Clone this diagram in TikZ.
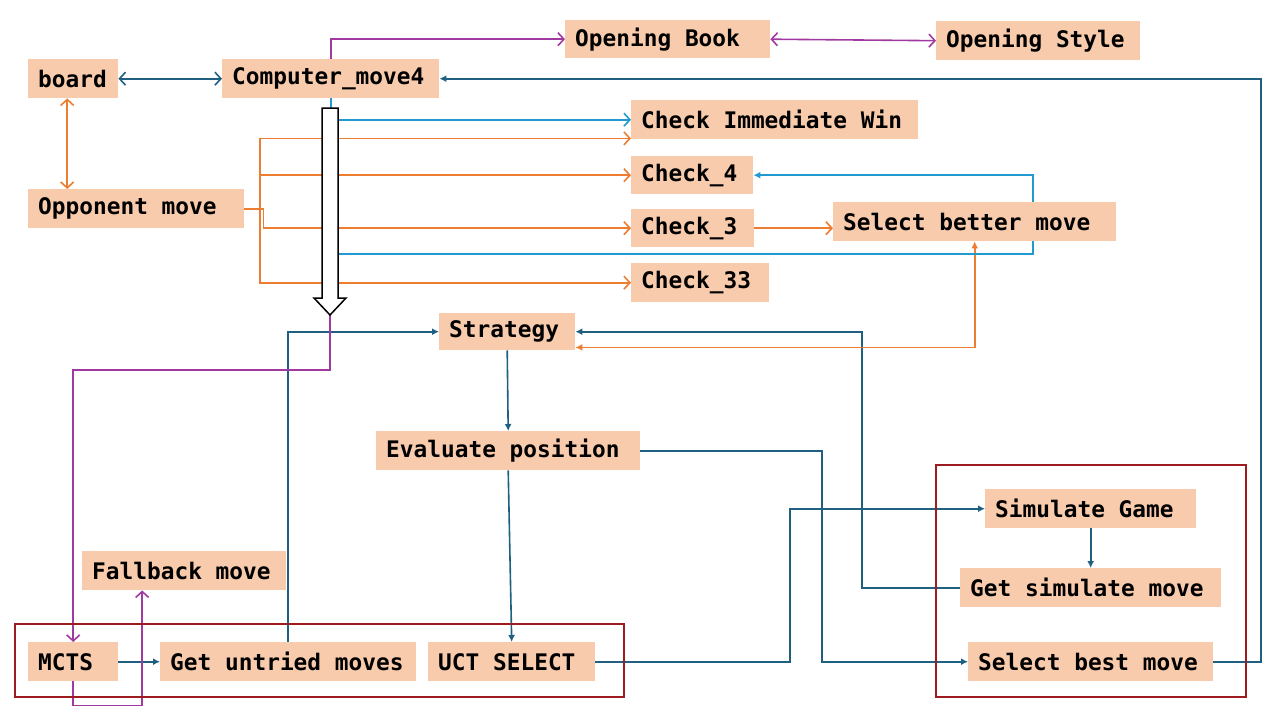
\documentclass[tikz,border=0pt]{standalone}
\usepackage{fontspec}
\newfontfamily\bxf{DejaVu Sans Mono}
\usetikzlibrary{arrows.meta}
\definecolor{peach}{HTML}{F8CBAD}
\definecolor{dblue}{HTML}{1F5F80}
\definecolor{lblue}{HTML}{2299D0}
\definecolor{orng}{HTML}{ED7D31}
\definecolor{purp}{HTML}{A03AA0}
\definecolor{dred}{HTML}{9E1B20}
\pgfdeclarelayer{bg}
\pgfdeclarelayer{mid}
\pgfsetlayers{bg,mid,main}
\newcommand\ws{\hspace*{0.602em}}
\tikzset{
  box/.style={fill=peach, anchor=north west, inner xsep=10pt, inner ysep=0pt,
    minimum height=39pt, align=left, font=\bxf\bfseries\fontsize{22.8}{27}\selectfont},
  conn/.style={line width=1.6pt},
  oa/.style={conn,-{Straight Barb[length=6pt,width=13pt]}},
  boa/.style={conn,{Straight Barb[length=6pt,width=13pt]}-{Straight Barb[length=6pt,width=13pt]}},
  sa/.style={conn,-{Latex[length=7pt,width=7pt]}},
  bsa/.style={conn,{Latex[length=7pt,width=7pt]}-{Latex[length=7pt,width=7pt]}},
  frame/.style={draw=dred, line width=1.8pt},
}
\begin{document}
\begin{tikzpicture}[x=1pt,y=-1pt]
\useasboundingbox (0,0) rectangle (1280,720);
% boxes
\node[box,text width=70pt] (board) at (28,59) {board};
\node[box,text width=197pt] (comp) at (222,59) {Computer\_move4};
\node[box,text width=185pt,minimum height=38pt] (book) at (565,20) {Opening\ws Book};
\node[box,text width=184pt] (style) at (936,21) {Opening\ws Style};
\node[box,text width=267pt] (ciw) at (631,100) {Check\ws Immediate\ws Win};
\node[box,text width=102pt,minimum height=38pt] (c4) at (631,156) {Check\_4};
\node[box,text width=103pt,minimum height=38pt] (c3) at (631,209) {Check\_3};
\node[box,text width=118pt] (c33) at (631,263) {Check\_33};
\node[box,text width=263pt] (sbm) at (833,202) {Select\ws better\ws move};
\node[box,text width=196pt] (opp) at (28,189) {Opponent\ws move};
\node[box,text width=116pt,minimum height=37pt] (strat) at (439,313) {Strategy};
\node[box,text width=244pt] (eval) at (376,431) {Evaluate\ws position};
\node[box,text width=184pt] (fall) at (82,551) {Fallback\ws move};
\node[box,text width=70pt] (mcts) at (28,642) {MCTS};
\node[box,text width=236pt] (gum) at (160,642) {Get\ws untried\ws moves};
\node[box,text width=147pt] (uct) at (428,642) {UCT\ws SELECT};
\node[box,text width=191pt] (simg) at (985,489) {Simulate\ws Game};
\node[box,text width=241pt] (gsm) at (960,568) {Get\ws simulate\ws move};
\node[box,text width=225pt] (sbest) at (968,642) {Select\ws best\ws move};
% helper coordinates
\coordinate (tip) at (330,315);
\coordinate (bus) at (260,0);
\coordinate (rtr) at (1261,0);
\coordinate (lb) at (1033,254);
\coordinate (v1) at (862,0);
\coordinate (v2) at (822,0);
\coordinate (v3) at (790,0);
% group frames
\begin{pgfonlayer}{mid}
\draw[frame] (15,624) rectangle (624,697);
\draw[frame] (936,465) rectangle (1246,697);
% big white arrow
\draw[fill=white, line width=1.5pt, line join=miter]
  (322,108) -- (338,108) -- (338,298) -- (346,298) -- (tip) -- (314,298) -- (322,298) -- cycle;
\end{pgfonlayer}
\begin{pgfonlayer}{bg}
% dark blue
\draw[boa, dblue] (board.east) -- (comp.west);
\draw[sa, dblue] (sbest.east) -- (sbest.east -| rtr) |- (comp.east);
\draw[sa, dblue] (gsm.west) -- (gsm.west -| v1) |- (strat.east);
\draw[sa, dblue] (gum.north) |- (strat.west);
\draw[sa, dblue] (strat.south) -- (eval.north);
\draw[sa, dblue] (eval.south) -- (uct.north);
\draw[sa, dblue] (eval.east) -- (eval.east -| v2) |- (sbest.west);
\draw[sa, dblue] (uct.east) -- (uct.east -| v3) |- (simg.west);
\draw[sa, dblue] (simg.south) -- (simg.south |- gsm.north);
\draw[sa, dblue] (mcts.east) -- (gum.west);
% orange
\draw[boa, orng] ([xshift=-6pt]board.south) -- ([xshift=-6pt]board.south |- opp.north);
\draw[oa, orng] (opp.east) -- ++(19,0) |- (c3.west);
\draw[oa, orng] (opp.east -| bus) |- ([yshift=1pt]ciw.south west);
\draw[oa, orng] (opp.east -| bus) |- (c4.west);
\draw[oa, orng] (opp.east -| bus) |- (c33.west);
\draw[oa, orng] (c3.east) -- (c3.east -| sbm.west);
\draw[bsa, orng] ([yshift=3pt]strat.south east) -| (sbm.south);
% light blue
\draw[oa, lblue] (comp.south) |- (ciw.west);
\draw[sa, lblue] (comp.south) |- (lb) |- (c4.east);
% purple
\draw[oa, purp] (comp.north) |- (book.west);
\draw[boa, purp] (book.east) -- (style.west);
\draw[oa, purp] (tip) -- ++(0,55) -| (mcts.north);
\draw[oa, purp] (mcts.south) -- ++(0,24) -| ([xshift=-42pt]fall.south);
\end{pgfonlayer}
\end{tikzpicture}
\end{document}
